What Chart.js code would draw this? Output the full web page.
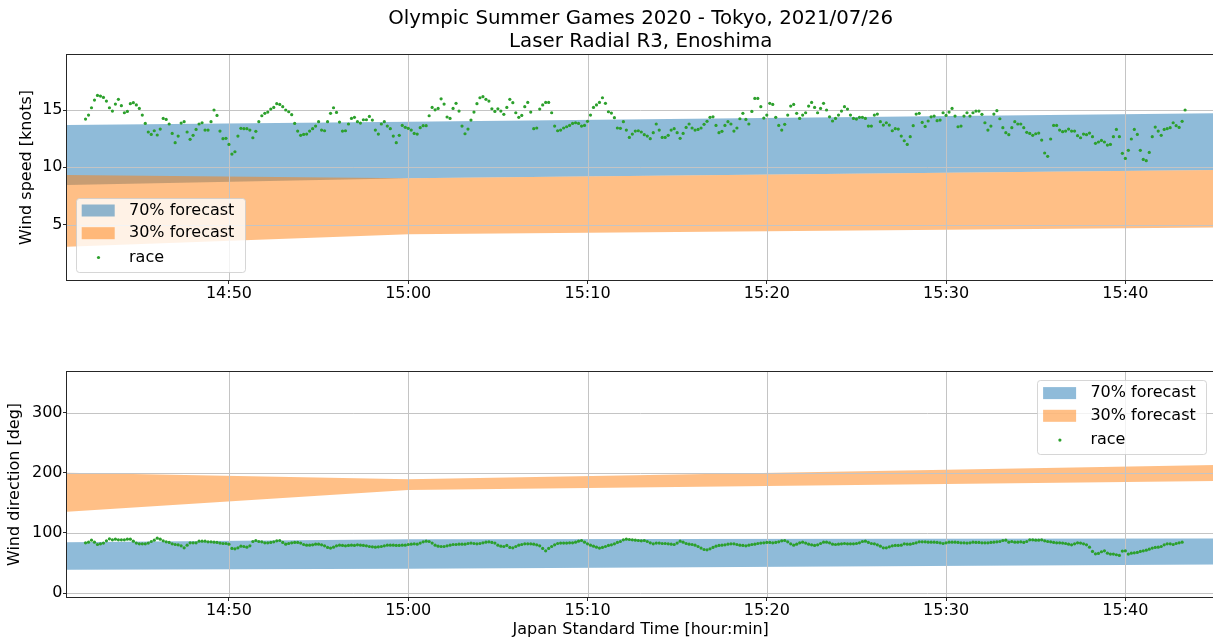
<!DOCTYPE html>
<html>
<head>
<meta charset="utf-8">
<script src="https://cdn.jsdelivr.net/npm/chart.js@4.4.1/dist/chart.umd.min.js"></script>
<style>
html, body { margin: 0; padding: 0; overflow: hidden; background: #fff; width: 1213px; height: 641px; }
#speedCanvas { position: absolute; left: 0; top: 0; }
#dirCanvas { position: absolute; left: 0; top: 320px; }
</style>
</head>
<body>
<canvas id="speedCanvas" width="1216" height="320"></canvas>
<canvas id="dirCanvas" width="1216" height="321"></canvas>
<script>
// ---------------- data ----------------
const TITLE_LINES = ['Olympic Summer Games 2020 - Tokyo, 2021/07/26', 'Laser Radial R3, Enoshima'];
const X_RANGE = ['14:40:58', '15:44:58'];
const X_TICK_STEP_MIN = 10;

const LABEL_70 = '70% forecast';
const LABEL_30 = '30% forecast';
const LABEL_RACE = 'race';

const FORECAST_TIMES = ['14:40:58', '15:00:00', '15:45:00'];
const SPEED_70_LOW  = [8.46, 9.04, 9.77];
const SPEED_70_HIGH = [13.69, 13.98, 14.72];
const SPEED_30_LOW  = [3.08, 4.16, 4.75];
const SPEED_30_HIGH = [9.33, 9.04, 9.77];
const DIR_70_LOW  = [38.7, 40.4, 47.5];
const DIR_70_HIGH = [84.7, 89.7, 90.8];
const DIR_30_LOW  = [135.5, 171.6, 186.6];
const DIR_30_HIGH = [200.3, 189.4, 213.1];

const SPEED_Y_RANGE = [0.17, 19.8];
const SPEED_Y_STEP = 5;
const DIR_Y_RANGE = [-6.6, 368];
const DIR_Y_STEP = 100;

const RACE_START = '14:42:00';
const RACE_STEP_SEC = 10;
const RACE_SPEED = [
14.21, 14.56, 15.20, 15.87, 16.27, 16.22, 16.10, 15.78, 15.20, 14.91,
15.52, 15.93, 15.38, 14.76, 14.88, 15.55, 15.64, 15.44, 15.14, 14.56,
13.83, 13.08, 12.87, 13.19, 12.82, 13.34, 14.27, 14.18, 13.78, 12.96,
12.15, 12.73, 13.86, 13.98, 13.08, 12.44, 12.79, 13.31, 13.78, 13.89,
13.25, 13.25, 13.98, 15.00, 14.53, 13.16, 12.50, 12.53, 12.00, 11.16,
11.36, 12.73, 13.40, 13.37, 13.37, 13.25, 12.58, 13.14, 13.98, 14.50,
14.71, 14.82, 15.08, 15.23, 15.55, 15.49, 15.29, 15.00, 14.85, 14.59,
13.83, 13.16, 12.79, 12.87, 12.90, 13.16, 13.37, 13.60, 13.98, 13.25,
13.19, 13.98, 14.71, 15.20, 14.79, 13.95, 13.16, 13.19, 13.78, 14.27,
14.36, 13.98, 13.86, 14.15, 14.15, 14.44, 14.12, 13.25, 12.90, 13.78,
13.98, 13.60, 13.37, 12.73, 12.15, 12.79, 13.66, 13.49, 13.40, 13.25,
12.96, 12.90, 13.46, 13.63, 13.63, 14.50, 15.23, 15.02, 15.14, 15.98,
15.52, 14.39, 14.27, 15.14, 15.58,
14.91, 13.60, 12.93, 13.34, 14.12, 14.82, 15.55, 16.07, 16.16, 15.93,
15.78, 15.11, 14.88, 15.11, 14.91, 14.62, 15.23, 15.93, 15.64, 14.76,
14.36, 14.53, 15.29, 15.66, 14.82, 13.37, 13.43, 15.08, 15.44, 15.66,
15.66, 14.76, 13.60, 13.19, 13.25, 13.43, 13.54, 13.66, 13.83, 13.89,
13.83, 13.60, 13.66, 14.01, 14.56, 15.23, 15.44, 15.66, 16.07, 15.58,
14.85, 14.73, 14.33, 13.43, 13.40, 13.98, 13.25, 12.61, 12.90, 13.16,
13.19, 13.08, 12.85, 12.73, 12.50, 13.02, 13.78, 13.25, 12.61, 12.61,
12.79, 13.25, 13.37, 13.02, 12.53, 12.96, 13.48, 13.78, 13.43, 13.25,
13.31, 13.43, 13.75, 14.01, 14.36, 14.41, 13.66, 13.02, 13.14, 13.66,
13.98, 13.78, 13.16, 13.43, 14.24, 14.71, 14.18, 13.78, 14.88, 16.01,
16.01, 15.29, 14.30, 14.56, 15.58, 15.49, 14.36, 13.66, 13.25, 13.75,
14.56, 15.34, 15.49, 14.71, 14.27, 14.56, 14.76, 15.34, 15.66, 15.23,
14.76, 15.14, 15.58, 15.00, 14.41, 14.04, 14.27,
14.56, 14.91, 15.29, 15.08, 14.56, 14.27, 14.21, 14.36, 14.36, 14.27,
13.60, 13.60, 14.56, 14.65, 13.98, 13.69, 13.89, 13.69, 13.19, 13.37,
13.34, 12.73, 12.32, 12.00, 12.67, 13.63, 14.65, 14.71, 13.92, 13.57,
14.04, 14.41, 14.47, 14.07, 14.12, 14.76, 14.53, 14.82, 15.14, 14.47,
13.54, 13.60, 14.47, 14.76, 14.47, 14.76, 14.91, 14.91, 14.62, 13.89,
13.25, 13.60, 14.65, 14.94, 14.24, 13.46, 13.02, 12.85,
13.46, 13.98, 13.78, 13.78, 13.46, 13.05, 12.96, 12.79, 12.93, 12.99,
12.38, 11.25, 10.96, 12.47, 13.66, 13.66, 13.25, 13.11, 13.16, 13.34,
13.16, 13.16, 12.76, 12.58, 12.90, 12.85, 12.99, 12.67, 12.09, 12.21,
12.35, 12.21, 11.94, 12.00, 12.67, 13.31, 12.67, 11.22, 10.78, 11.48,
12.47, 13.31, 12.87, 11.48, 10.69, 10.58, 11.30, 12.67, 13.51, 13.16,
12.79, 13.31, 13.37, 13.46, 13.89, 13.63, 13.48, 14.01, 15.00
];
const RACE_DIRECTION = [
83.6, 84.7, 88.0, 84.7, 80.8, 81.9, 83.1, 86.9, 90.3, 88.6,
89.7, 88.6, 88.6, 88.6, 89.7, 89.7, 86.4, 83.1, 81.9, 81.9,
81.9, 83.1, 85.8, 88.0, 91.4, 89.7, 86.9, 85.3, 84.2, 81.9,
80.8, 80.3, 78.6, 75.3, 79.7, 83.6, 83.6, 83.6, 86.4, 86.4,
86.4, 85.3, 85.3, 84.7, 84.2, 83.1, 82.5, 82.5, 81.4, 74.2,
73.6, 75.3, 78.1, 77.5, 76.4, 78.6, 85.8, 87.5, 85.8, 85.3,
83.6, 83.6, 84.2, 85.3, 86.9, 87.5, 84.2, 81.4, 82.5, 83.6,
84.2, 84.2, 83.1, 80.8, 79.7, 79.7, 80.3, 81.4, 81.4, 80.3,
78.6, 75.9,
74.8, 76.4, 78.6, 79.7, 79.2, 78.6, 79.2, 79.7, 79.2, 80.3,
79.7, 79.2, 78.6, 77.5, 77.0, 76.4, 77.0, 77.5, 78.6, 79.7,
79.7, 79.7, 79.2, 79.2, 79.7, 79.7, 80.8, 81.4, 81.9, 81.4,
83.1, 85.3, 86.4, 85.8, 83.1, 79.7, 78.1, 77.5, 77.5, 78.6,
79.7, 80.8, 80.8, 81.4, 81.4, 81.4, 82.5, 83.1, 82.5, 81.9,
82.5, 83.6, 84.7, 85.3, 84.2, 83.1, 79.7, 78.1, 77.5, 79.2,
75.9, 75.3, 77.5, 79.7, 80.8, 81.9, 81.9,
82.0, 81.4, 80.3, 78.6, 74.2, 70.3, 74.2, 77.5, 80.3, 82.5,
83.1, 83.1, 83.1, 83.6, 83.6, 84.7, 86.4, 87.5, 84.7, 82.0,
79.7, 78.1, 76.4, 74.8, 75.9, 77.5, 79.2, 80.3, 82.0, 84.2,
85.8, 88.6, 89.7, 89.1, 88.6, 88.0, 87.5, 86.9, 87.5, 85.8,
83.6, 82.0, 83.1, 83.1, 82.5, 82.5, 82.0, 81.4, 80.8, 83.1,
86.4, 84.7, 82.5, 81.4, 80.8, 79.7, 77.5, 74.8, 72.5, 72.0,
73.6, 75.9, 78.1, 79.2, 79.7, 80.3, 81.4, 82.0, 82.0, 80.8,
79.7, 79.2, 78.6, 79.7, 80.8, 81.4, 82.5, 83.1, 83.6, 84.2,
84.2, 83.6, 84.2, 85.3, 86.9, 87.5, 85.3, 82.0, 79.7, 81.4,
83.6, 84.7, 83.1, 81.4, 80.3,
79.2, 80.3, 82.5, 84.7, 84.7, 83.6, 81.4, 80.8, 81.4, 82.0,
82.5, 82.0, 82.0, 82.0, 82.5, 83.6, 85.8, 86.4, 84.2, 82.5,
82.0, 80.3, 78.1, 75.3, 75.3, 77.0, 78.6, 79.2, 79.2, 79.7,
82.0, 81.4, 81.4, 82.5, 83.6, 85.3, 85.3, 85.3, 84.7, 84.7,
84.7, 84.2, 83.6, 82.5, 83.6, 84.7, 84.7, 84.7, 84.2, 83.6,
83.6, 83.1, 83.6, 84.7, 84.2, 84.2, 83.6, 83.6, 83.6, 84.2,
84.7, 85.3, 85.8, 87.5, 88.0,
84.7, 85.8, 84.7, 84.7, 85.3, 84.2, 85.8, 88.6, 88.6, 88.0,
88.0, 88.6, 86.9, 85.8, 85.3, 84.2, 83.6, 83.6, 83.1, 82.5,
81.4, 80.3, 81.9, 83.6, 83.1, 81.9, 80.3, 76.4, 69.2, 65.3,
65.9, 68.7, 70.3, 66.4, 64.8, 64.8, 63.7, 62.6, 69.8, 70.3,
64.8, 66.4, 67.0, 67.6, 69.2, 70.3, 71.4, 73.1, 74.8, 75.9,
76.4, 77.5, 80.3, 81.9, 81.9, 80.8, 82.5, 83.6, 84.7
];

// ---------------- helpers ----------------
const FONT = '"DejaVu Sans", "Liberation Sans", sans-serif';
Chart.defaults.font.family = FONT;
Chart.defaults.color = '#000';

const BLUE_FILL = 'rgba(31,119,180,0.5)';
const ORANGE_FILL = 'rgba(255,127,14,0.5)';
const GREEN = '#2ca02c';
const SPINE = '#262626';
const GRID = '#c4c4c4';

function toMin(s) {
  const p = s.split(':').map(Number);
  return p[0] * 60 + p[1] + (p[2] || 0) / 60;
}
function fmtTime(v) {
  const h = Math.floor(v / 60);
  const m = Math.round(v - h * 60);
  return h + ':' + String(m).padStart(2, '0');
}
function points(times, vals) {
  return vals.map((v, i) => ({ x: toMin(times[i]), y: v }));
}
function racePoints(vals) {
  const t0 = toMin(RACE_START);
  return vals.map((v, i) => ({ x: t0 + i * RACE_STEP_SEC / 60, y: v }));
}

function buildDatasets(low70, high70, low30, high30, race) {
  const base = { pointRadius: 0, borderWidth: 0, borderColor: 'rgba(0,0,0,0)', tension: 0 };
  return [
    Object.assign({}, base, { label: '_70low', data: points(FORECAST_TIMES, low70), fill: false, order: 5 }),
    Object.assign({}, base, { label: LABEL_70, data: points(FORECAST_TIMES, high70), fill: '-1',
      backgroundColor: BLUE_FILL, order: 4, legendRank: 0, legendMarker: 'patch' }),
    Object.assign({}, base, { label: '_30low', data: points(FORECAST_TIMES, low30), fill: false, order: 3 }),
    Object.assign({}, base, { label: LABEL_30, data: points(FORECAST_TIMES, high30), fill: '-1',
      backgroundColor: ORANGE_FILL, order: 2, legendRank: 1, legendMarker: 'patch' }),
    { label: LABEL_RACE, data: racePoints(race), showLine: false, pointRadius: 1.6, pointHoverRadius: 1.6,
      pointBorderWidth: 0, pointBackgroundColor: GREEN, pointBorderColor: GREEN, backgroundColor: GREEN,
      borderColor: GREEN, order: 1, isRace: true, legendRank: 2, legendMarker: 'dot' }
  ];
}

// grid drawn above the forecast bands but below the race dots
const gridUnder = {
  id: 'gridUnder',
  beforeDatasetDraw(chart, args) {
    const ds = chart.data.datasets[args.index];
    if (!ds.isRace) return;
    const ctx = chart.ctx, a = chart.chartArea;
    ctx.save();
    ctx.strokeStyle = GRID;
    ctx.lineWidth = 1;
    ctx.beginPath();
    chart.scales.x.ticks.forEach(t => {
      const px = Math.round(chart.scales.x.getPixelForValue(t.value)) + 0.5;
      ctx.moveTo(px, a.top); ctx.lineTo(px, a.bottom);
    });
    chart.scales.y.ticks.forEach(t => {
      const py = Math.round(chart.scales.y.getPixelForValue(t.value)) + 0.5;
      ctx.moveTo(a.left, py); ctx.lineTo(a.right, py);
    });
    ctx.stroke();
    ctx.restore();
  }
};

const frame = {
  id: 'frame',
  afterDatasetsDraw(chart) {
    const ctx = chart.ctx, a = chart.chartArea;
    ctx.save();
    ctx.strokeStyle = SPINE;
    ctx.lineWidth = 1;
    ctx.strokeRect(a.left - 0.5, a.top - 0.5, a.right - a.left + 1, a.bottom - a.top + 1);
    ctx.restore();
  }
};

const boxLegend = {
  id: 'boxLegend',
  afterDraw(chart, args, o) {
    if (!o || !o.corner) return;
    const ctx = chart.ctx, a = chart.chartArea;
    const W = 169, H = 74;
    const left = o.corner === 'lowerleft' ? a.left + o.dx : a.right - o.dx - W;
    const top = o.corner === 'lowerleft' ? a.bottom - o.dy - H : a.top + o.dy;
    ctx.save();
    ctx.beginPath();
    ctx.roundRect(Math.round(left) + 0.5, Math.round(top) + 0.5, W, H, 3);
    ctx.fillStyle = 'rgba(255,255,255,0.8)';
    ctx.fill();
    ctx.strokeStyle = 'rgba(204,204,204,0.8)';
    ctx.lineWidth = 1;
    ctx.stroke();
    const rows = [12.8, 35.5, 59.8];
    const items = chart.data.datasets.filter(d => d.legendRank !== undefined)
      .sort((p, q) => p.legendRank - q.legendRank);
    ctx.font = '16px ' + FONT;
    ctx.textBaseline = 'middle';
    ctx.textAlign = 'left';
    items.forEach((d, k) => {
      const cy = top + rows[k];
      if (d.legendMarker === 'patch') {
        ctx.fillStyle = d.backgroundColor;
        ctx.fillRect(left + 5.7, cy - 6, 33, 12);
      } else {
        ctx.fillStyle = d.pointBackgroundColor;
        ctx.beginPath();
        ctx.arc(left + 22.5, cy, 1.6, 0, Math.PI * 2);
        ctx.fill();
      }
      ctx.fillStyle = '#000';
      ctx.fillText(d.label, left + 53, cy);
    });
    ctx.restore();
  }
};

const figTitle = {
  id: 'figTitle',
  afterDraw(chart, args, o) {
    if (!o || !o.lines) return;
    const ctx = chart.ctx, a = chart.chartArea;
    ctx.save();
    ctx.font = '19.8px ' + FONT;
    ctx.fillStyle = '#000';
    ctx.textAlign = 'center';
    ctx.textBaseline = 'middle';
    const cx = (a.left + a.right) / 2;
    o.lines.forEach((ln, i) => ctx.fillText(ln, cx, o.y[i]));
    ctx.restore();
  }
};

function makeChart(canvas, cfg) {
  return new Chart(canvas, {
    type: 'line',
    data: { datasets: cfg.datasets },
    options: {
      responsive: false,
      animation: false,
      devicePixelRatio: 1,
      events: [],
      layout: { padding: { top: cfg.padTop, left: 0, right: 0, bottom: 0 } },
      plugins: {
        legend: { display: false },
        tooltip: { enabled: false },
        title: { display: false },
        boxLegend: cfg.legend,
        figTitle: cfg.figTitle || {}
      },
      scales: {
        x: {
          type: 'linear',
          min: toMin(X_RANGE[0]),
          max: toMin(X_RANGE[1]),
          afterFit: s => { s.height = cfg.xHeight; },
          border: { display: false },
          grid: { drawOnChartArea: false, drawTicks: true, tickLength: 4, tickColor: SPINE, tickWidth: 1 },
          ticks: { stepSize: X_TICK_STEP_MIN, includeBounds: false, maxRotation: 0, autoSkip: false,
                   padding: 0.5, font: { size: 16 }, color: '#000', callback: v => fmtTime(v) },
          title: cfg.xTitle ? { display: true, text: cfg.xTitle, font: { size: 16 }, color: '#000',
                   padding: { top: 0, bottom: 1.4 } } : { display: false }
        },
        y: {
          min: cfg.yRange[0],
          max: cfg.yRange[1],
          afterFit: s => { s.width = 67; },
          border: { display: false },
          grid: { drawOnChartArea: false, drawTicks: true, tickLength: 4, tickColor: SPINE, tickWidth: 1 },
          ticks: { stepSize: cfg.yStep, includeBounds: false, padding: 0.5, font: { size: 16 }, color: '#000' },
          title: { display: true, text: cfg.yTitle, font: { size: 16 }, color: '#000',
                   padding: { top: cfg.yTitlePad, bottom: 0 } }
        }
      }
    },
    plugins: [gridUnder, frame, boxLegend, figTitle]
  });
}

makeChart(document.getElementById('speedCanvas'), {
  datasets: buildDatasets(SPEED_70_LOW, SPEED_70_HIGH, SPEED_30_LOW, SPEED_30_HIGH, RACE_SPEED),
  padTop: 55,
  xHeight: 40,
  yRange: SPEED_Y_RANGE,
  yStep: SPEED_Y_STEP,
  yTitle: 'Wind speed [knots]',
  yTitlePad: 17.4,
  legend: { corner: 'lowerleft', dx: 9, dy: 8.3 },
  figTitle: { lines: TITLE_LINES, y: [19, 42] }
});

makeChart(document.getElementById('dirCanvas'), {
  datasets: buildDatasets(DIR_70_LOW, DIR_70_HIGH, DIR_30_LOW, DIR_30_HIGH, RACE_DIRECTION),
  padTop: 52,
  xHeight: 44,
  yRange: DIR_Y_RANGE,
  yStep: DIR_Y_STEP,
  yTitle: 'Wind direction [deg]',
  yTitlePad: 5.4,
  xTitle: 'Japan Standard Time [hour:min]',
  legend: { corner: 'upperright', dx: 8, dy: 8.3 }
});
</script>
</body>
</html>
